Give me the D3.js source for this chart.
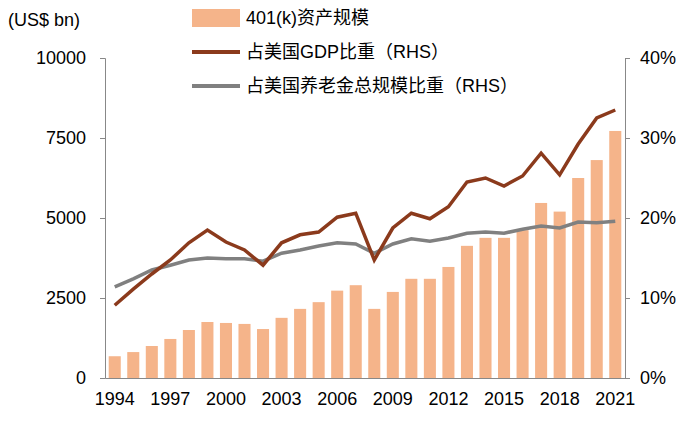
<!DOCTYPE html><html><head><meta charset="utf-8"><script src="https://cdn.jsdelivr.net/npm/d3@7"></script>
<style>body{margin:0;background:#fff}text{font-family:"Liberation Sans","Noto Sans CJK SC",sans-serif}</style></head><body>
<svg id="c" width="700" height="427"></svg>
<script>
const years=d3.range(1994,2022);
const assets=[680,810,1000,1220,1500,1750,1720,1690,1530,1880,2160,2370,2730,2900,2160,2690,3100,3100,3470,4130,4380,4380,4620,5470,5200,6250,6810,7720];
const gdpShare=[9.1,11.1,13,14.75,16.9,18.5,17,16,14.1,16.9,17.9,18.25,20.1,20.6,14.75,18.75,20.6,19.9,21.4,24.5,25,24,25.25,28.1,25.4,29.25,32.5,33.5];
const pensionShare=[11.4,12.4,13.5,14.1,14.75,15,14.9,14.9,14.6,15.6,16,16.5,16.9,16.75,15.6,16.75,17.4,17.1,17.5,18.1,18.25,18.1,18.6,19,18.75,19.5,19.4,19.6];
const leftTicks=[0,2500,5000,7500,10000];
const rightTicks=[0,10,20,30,40];
const xTickYears=[1994,1997,2000,2003,2006,2009,2012,2015,2018,2021];
const svg=d3.select("#c");
const L=105,R=625,T=58,B=378;
const x=d3.scaleBand().domain(years).range([L,R]).paddingInner(0.35).paddingOuter(0.2);
const y=d3.scaleLinear().domain([0,10000]).range([B,T]);
const y2=d3.scaleLinear().domain([0,40]).range([B,T]);
const cx=d=>x(d)+x.bandwidth()/2;
svg.selectAll("rect.b").data(years).join("rect").attr("x",d=>x(d)).attr("width",x.bandwidth())
 .attr("y",(d,i)=>y(assets[i])).attr("height",(d,i)=>B-y(assets[i])).attr("fill","#F5B48A");
const ln=d3.line().x((d,i)=>cx(years[i])).y(d=>y2(d));
svg.append("path").attr("d",ln(pensionShare)).attr("fill","none").attr("stroke","#808080").attr("stroke-width",3.5);
svg.append("path").attr("d",ln(gdpShare)).attr("fill","none").attr("stroke","#8B3A1C").attr("stroke-width",3.5);
const ax=svg.append("g").attr("transform",`translate(0,${B})`).call(d3.axisBottom(x).tickValues(xTickYears).tickSize(0).tickPadding(14));
const ay=svg.append("g").attr("transform",`translate(${L},0)`).call(d3.axisLeft(y).tickValues(leftTicks).tickFormat(d3.format("d")).tickSize(5).tickPadding(14));
const ay2=svg.append("g").attr("transform",`translate(${R},0)`).call(d3.axisRight(y2).tickValues(rightTicks).tickSize(5).tickPadding(10).tickFormat(d=>d+"%"));
[ax,ay,ay2].forEach(g=>{g.selectAll("text").attr("font-size",18).attr("fill","#000");g.selectAll("line,.domain").attr("stroke","#888");});
svg.append("text").attr("x",8).attr("y",26).attr("font-size",18).text("(US$ bn)");
const leg=[["rect","#F5B48A","401(k)资产规模"],["line","#8B3A1C","占美国GDP比重（RHS）"],["line","#808080","占美国养老金总规模比重（RHS）"]];
leg.forEach((l,i)=>{const yy=18+i*34;
 if(l[0]=="rect")svg.append("rect").attr("x",192).attr("y",yy-9).attr("width",48).attr("height",18).attr("fill",l[1]);
 else svg.append("line").attr("x1",192).attr("x2",240).attr("y1",yy).attr("y2",yy).attr("stroke",l[1]).attr("stroke-width",4);
 svg.append("text").attr("x",246).attr("y",yy+6).attr("font-size",18).text(l[2]);});
</script></body></html>
